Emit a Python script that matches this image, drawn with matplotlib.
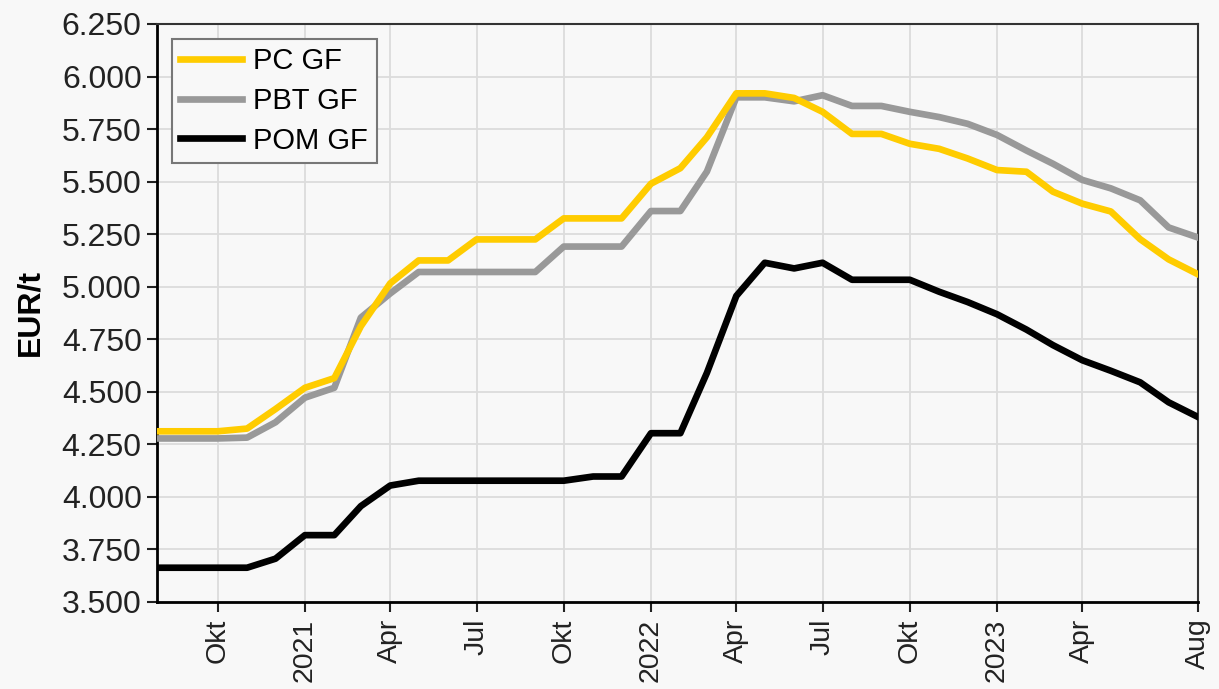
import pandas as pd
import matplotlib
matplotlib.use('Agg')
import matplotlib.pyplot as plt

# monthly values, Aug 2020 .. Aug 2023 (EUR/t)
months = pd.date_range('2020-08-01', periods=37, freq='MS')

pc_gf = [4312, 4312, 4312, 4325, 4418,
         4519, 4565, 4812, 5016, 5125, 5125, 5225, 5225, 5225, 5325, 5325, 5325,
         5490, 5564, 5711, 5920, 5920, 5898, 5832, 5727, 5727, 5680, 5656, 5610,
         5555, 5547, 5452, 5395, 5358, 5226, 5130, 5059]

pbt_gf = [4278, 4278, 4278, 4282, 4355,
          4472, 4519, 4853, 4968, 5070, 5070, 5070, 5070, 5070, 5191, 5191, 5191,
          5360, 5360, 5548, 5901, 5901, 5882, 5911, 5860, 5860, 5832, 5807, 5775,
          5722, 5648, 5585, 5508, 5468, 5411, 5282, 5234]

pom_gf = [3663, 3663, 3663, 3663, 3706,
          3818, 3818, 3956, 4054, 4077, 4077, 4077, 4077, 4077, 4077, 4097, 4097,
          4303, 4303, 4590, 4956, 5114, 5087, 5114, 5033, 5033, 5033, 4976, 4927,
          4869, 4796, 4722, 4650, 4600, 4545, 4450, 4380]

tick_dates = ['2020-10-01', '2021-01-01', '2021-04-01', '2021-07-01', '2021-10-01',
              '2022-01-01', '2022-04-01', '2022-07-01', '2022-10-01', '2023-01-01',
              '2023-04-01', '2023-08-01']
tick_labels = ['Okt', '2021', 'Apr', 'Jul', 'Okt', '2022', 'Apr', 'Jul', 'Okt',
               '2023', 'Apr', 'Aug']
y_ticks = list(range(3500, 6251, 250))

plt.rcParams['font.family'] = ['Liberation Sans', 'DejaVu Sans']

bg = '#f8f8f8'
fig = plt.figure(figsize=(12.19, 6.89), dpi=100, facecolor=bg)
ax = fig.add_axes([0.1288, 0.1263, 0.8540, 0.8389], facecolor=bg)

lw = 4.8
l3, = ax.plot(months, pom_gf, color='black', lw=lw, label='POM GF', zorder=3)
l2, = ax.plot(months, pbt_gf, color='#999999', lw=lw, label='PBT GF', zorder=3)
l1, = ax.plot(months, pc_gf, color='#ffcc00', lw=lw, label='PC GF', zorder=4)

ax.set_xlim(pd.Timestamp('2020-07-29'), pd.Timestamp('2023-08-01'))
ax.set_ylim(3500, 6250)

ax.set_yticks(y_ticks)
ax.set_yticklabels([f'{v:,}'.replace(',', '.') for v in y_ticks])
ax.set_xticks([pd.Timestamp(d) for d in tick_dates])
ax.set_xticklabels(tick_labels, rotation=90)

ax.tick_params(axis='y', labelsize=23, length=7, width=1.5, pad=4, colors='#222222')
ax.tick_params(axis='x', labelsize=20.5, length=7, width=1.5, pad=5, colors='#222222')

ax.grid(True, color='#dcdcdc', lw=1.3, zorder=0)
ax.set_axisbelow(True)
for side in ['left', 'bottom']:
    ax.spines[side].set_linewidth(2)
    ax.spines[side].set_color('black')
for side in ['top', 'right']:
    ax.spines[side].set_linewidth(1.5)
    ax.spines[side].set_color('#333333')

ax.set_ylabel('EUR/t', fontsize=23, fontweight='bold', labelpad=12)

leg = ax.legend(handles=[l1, l2, l3], loc='upper left', fontsize=21,
                handlelength=2.1, handletextpad=0.4, labelspacing=0.4,
                borderaxespad=0.5, borderpad=0.3, fancybox=False,
                framealpha=1, facecolor=bg, edgecolor='#777777')
leg.get_frame().set_linewidth(1.5)

plt.savefig('out.png', dpi=100, facecolor=bg)
